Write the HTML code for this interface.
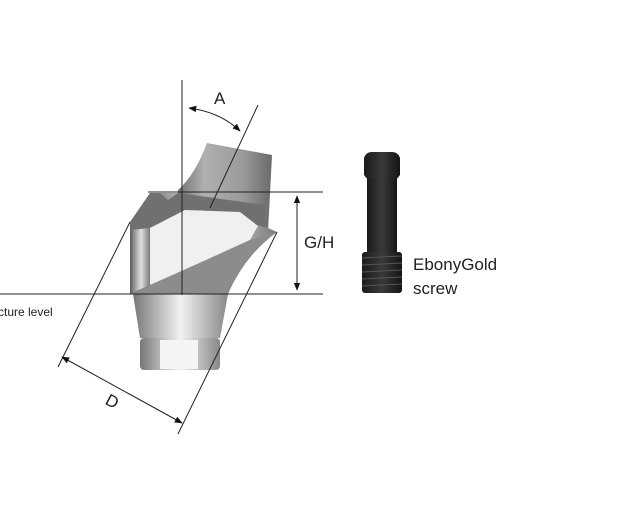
<!DOCTYPE html>
<html><head><meta charset="utf-8"><style>
html,body{margin:0;padding:0;background:#fff;}
svg{display:block;}
text{font-family:"Liberation Sans",sans-serif;fill:#222;}
</style></head><body>
<svg width="618" height="526" viewBox="0 0 618 526" xmlns="http://www.w3.org/2000/svg">
<defs>
<linearGradient id="g1" x1="0" x2="1" y1="0" y2="0">
<stop offset="0" stop-color="#5a5a5a"/><stop offset="0.3" stop-color="#a8a8a8"/><stop offset="0.55" stop-color="#e0e0e0"/><stop offset="1" stop-color="#7a7a7a"/></linearGradient>
<linearGradient id="g2" x1="0" x2="1" y1="0" y2="0">
<stop offset="0" stop-color="#6a6a6a"/><stop offset="0.3" stop-color="#b0b0b0"/><stop offset="0.7" stop-color="#9a9a9a"/><stop offset="1" stop-color="#6a6a6a"/></linearGradient>
<linearGradient id="g3" x1="0" x2="1" y1="0" y2="0">
<stop offset="0" stop-color="#777"/><stop offset="0.5" stop-color="#f2f2f2"/><stop offset="1" stop-color="#888"/></linearGradient>
<linearGradient id="gs" x1="0" x2="1" y1="0" y2="0">
<stop offset="0" stop-color="#1a1a1a"/><stop offset="0.5" stop-color="#3a3a3a"/><stop offset="1" stop-color="#151515"/></linearGradient>
<marker id="ar" viewBox="0 0 10 10" refX="9" refY="5" markerWidth="8" markerHeight="8" orient="auto-start-reverse"><path d="M0,1 L10,5 L0,9 z" fill="#111"/></marker>
</defs>
<!-- upper cone -->
<path d="M207,143 L272,155 L268,232 L175,232 L178,190 Q195,175 207,143 Z" fill="url(#g2)"/>
<!-- main body -->
<path d="M150,193 L178,193 L180,198 L178,232 L130,230 L130,294 L228,294 Q245,255 277,232 L268,228 L265,215 L180,210 Z" fill="url(#g1)"/>
<path d="M130,222 L150,193 L160,193 L168,200 L178,193 L265,205 L268,228 L200,210 L130,235 Z" fill="#707070"/>
<path d="M185,210 L240,212 L258,226 L250,240 L150,285 L150,228 Z" fill="#f0f0f0"/>
<path d="M130,294 L130,230 L150,228 L150,285 Z" fill="url(#g1)"/>
<path d="M140,290 L250,240 L277,232 Q245,255 228,294 L130,294 Z" fill="#8c8c8c"/>
<!-- lower -->
<path d="M133,294 L228,294 L220,338 L140,338 Z" fill="url(#g3)"/>
<rect x="140" y="338" width="80" height="32" rx="4" fill="url(#g3)"/>
<rect x="160" y="340" width="38" height="29" fill="#f5f5f5"/>
<!-- lines -->
<g stroke="#222" stroke-width="1" fill="none">
<line x1="182" y1="80" x2="182" y2="295"/>
<line x1="148" y1="192" x2="323" y2="192"/>
<line x1="0" y1="294" x2="323" y2="294"/>
<line x1="297" y1="196" x2="297" y2="290" marker-start="url(#ar)" marker-end="url(#ar)"/>
<line x1="258" y1="105" x2="210" y2="208"/>
<path d="M189,108 Q220,112 240,131" marker-start="url(#ar)" marker-end="url(#ar)"/>
<line x1="130" y1="222" x2="58" y2="367"/>
<line x1="277" y1="232" x2="178" y2="434"/>
<line x1="62" y1="357" x2="182" y2="423" marker-start="url(#ar)" marker-end="url(#ar)"/>
</g>
<text x="214" y="104" font-size="17">A</text>
<text x="304" y="248" font-size="17">G/H</text>
<text x="106" y="408" font-size="17" transform="rotate(28 114 402)">D</text>
<text x="-2" y="316" font-size="12">cture level</text>
<!-- screw -->
<path d="M364,158 Q366,152 372,152 L392,152 Q398,152 400,158 L400,175 L396,180 L368,180 L364,175 Z" fill="url(#gs)"/>
<rect x="367" y="178" width="30" height="74" fill="url(#gs)"/>
<rect x="362" y="252" width="40" height="41" rx="3" fill="url(#gs)"/>
<g stroke="#555" stroke-width="1">
<line x1="362" y1="258" x2="402" y2="256"/><line x1="362" y1="265" x2="402" y2="263"/>
<line x1="362" y1="272" x2="402" y2="270"/><line x1="362" y1="279" x2="402" y2="277"/>
<line x1="362" y1="286" x2="402" y2="284"/>
</g>
<text x="413" y="270" font-size="17">EbonyGold</text>
<text x="413" y="294" font-size="17">screw</text>
</svg>
</body></html>
